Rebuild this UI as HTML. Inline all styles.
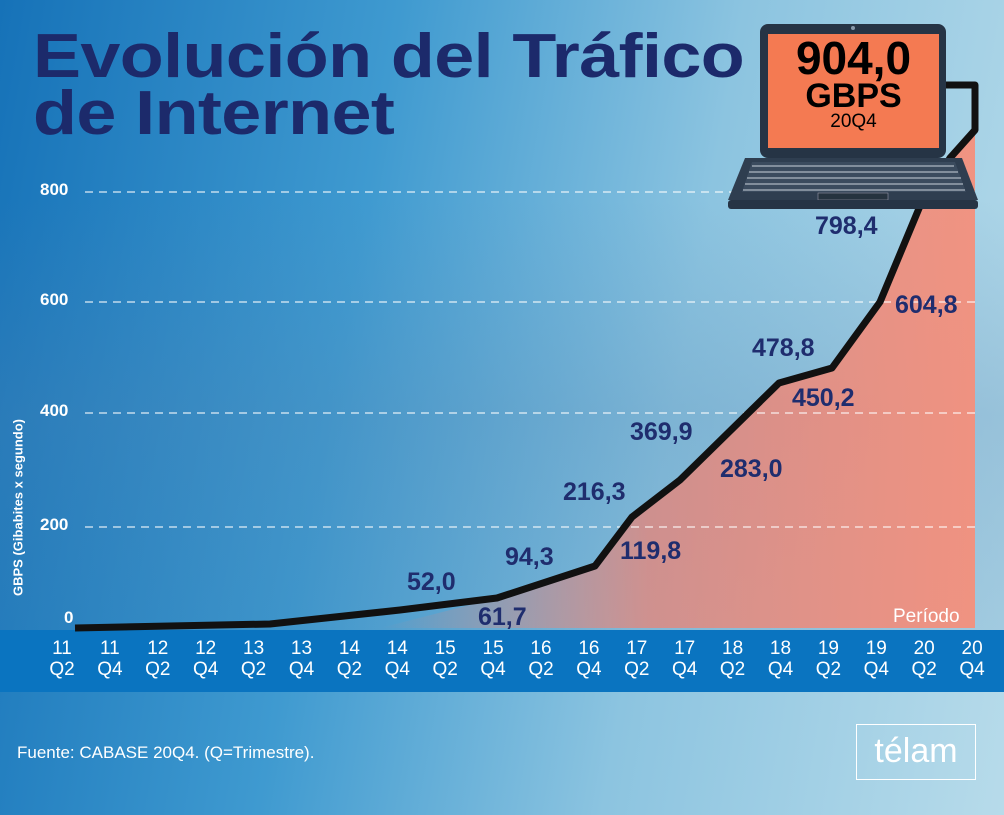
<!DOCTYPE html>
<html><head><meta charset="utf-8"><style>
body{margin:0;width:1004px;height:815px;overflow:hidden;font-family:"Liberation Sans",sans-serif}
#w{position:relative;width:1004px;height:815px;background:linear-gradient(100deg,#1672b8 0%,#3f9ad0 35%,#8cc4e0 65%,#b7dbea 100%)}
.t{position:absolute;font-weight:bold;color:#1c2a6b}
.v{position:absolute;font-weight:bold;color:#1f2d6e;font-size:25px;font-family:"Liberation Sans Narrow","Liberation Sans",sans-serif}
.yl{position:absolute;color:#fff;font-weight:bold;font-size:17px}
.xl{position:absolute;top:638px;width:40px;text-align:center;color:#fff;font-size:19px;line-height:21px;font-family:"Liberation Sans Narrow","Liberation Sans",sans-serif}
</style></head><body><div id="w">
<div style="position:absolute;left:0;top:200px;width:1004px;height:430px;background:linear-gradient(180deg,rgba(100,150,190,0),rgba(80,130,175,0.25) 50%,rgba(60,120,170,0.15))"></div>
<svg width="1004" height="815" style="position:absolute;left:0;top:0">
<defs><linearGradient id="p" x1="0" x2="1" y1="0" y2="0"><stop offset="0" stop-color="#f08070" stop-opacity="0"/><stop offset="0.45" stop-color="#f08070" stop-opacity="0.7"/><stop offset="1" stop-color="#f4907c" stop-opacity="0.95"/></linearGradient></defs>
<polygon fill="url(#p)" points="380,628 497,598 595,566 632,517 680,480 779,383 832,368 880,302 920,206 975,130 975,628"/>
<g stroke="#fff" stroke-dasharray="8,6" stroke-width="1.3" opacity="0.85">
<line x1="85" x2="975" y1="192" y2="192"/><line x1="85" x2="975" y1="302" y2="302"/><line x1="85" x2="975" y1="413" y2="413"/><line x1="85" x2="975" y1="527" y2="527"/></g>
<rect x="0" y="630" width="1004" height="62" fill="#0a74c0"/>
<polyline fill="none" stroke="#111" stroke-width="7" stroke-linejoin="round" points="75,628 270,624 400,610 497,598 595,566 632,517 680,480 779,383 832,368 880,302 920,206 950,158 975,130 975,85 945,85"/>
<g>
<rect x="760" y="24" width="186" height="134" rx="8" fill="#263445"/>
<rect x="768" y="34" width="171" height="114" fill="#f47a52"/>
<circle cx="853" cy="28" r="2" fill="#8899aa"/>
<polygon points="745,158 962,158 978,200 728,200" fill="#2f3e50"/>
<polygon points="752,162 955,162 966,192 742,192" fill="#3b4b5e"/>
<g stroke="#c8d0da" stroke-width="1"><line x1="752" y1="166" x2="954" y2="166"/><line x1="749" y1="172" x2="958" y2="172"/><line x1="747" y1="178" x2="961" y2="178"/><line x1="745" y1="184" x2="963" y2="184"/><line x1="743" y1="190" x2="965" y2="190"/></g>
<rect x="818" y="193" width="70" height="7" fill="#26333f" stroke="#aab" stroke-width="0.5"/>
<rect x="728" y="200" width="250" height="9" rx="3" fill="#263445"/>
</g>
</svg>
<div class="t" style="left:33px;top:28px;font-size:62px;line-height:57px;letter-spacing:-0.5px;transform:scaleX(1.16);transform-origin:0 0">Evolución del Tráfico<br>de Internet</div>
<div style="position:absolute;left:768px;top:36px;width:171px;text-align:center;font-weight:bold;color:#000">
<div style="font-size:46px;line-height:44px">904,0</div><div style="font-size:34px;line-height:32px">GBPS</div><div style="font-size:19px;line-height:20px;font-weight:normal">20Q4</div></div>
<div class="yl" style="left:40px;top:180px">800</div><div class="yl" style="left:40px;top:290px">600</div><div class="yl" style="left:40px;top:401px">400</div><div class="yl" style="left:40px;top:515px">200</div><div class="yl" style="left:64px;top:608px">0</div>
<div style="position:absolute;left:-82px;top:500px;width:200px;transform:rotate(-90deg);color:#fff;font-weight:bold;font-size:13px;text-align:center">GBPS (Gibabites x segundo)</div>
<div style="position:absolute;left:893px;top:606px;color:#fff;font-size:19px">Período</div>
<div class="v" style="left:407px;top:568px">52,0</div><div class="v" style="left:478px;top:603px">61,7</div>
<div class="v" style="left:505px;top:543px">94,3</div><div class="v" style="left:620px;top:537px">119,8</div>
<div class="v" style="left:563px;top:478px">216,3</div><div class="v" style="left:630px;top:418px">369,9</div>
<div class="v" style="left:720px;top:455px">283,0</div><div class="v" style="left:752px;top:334px">478,8</div>
<div class="v" style="left:792px;top:384px">450,2</div><div class="v" style="left:895px;top:291px">604,8</div>
<div class="v" style="left:815px;top:212px">798,4</div>
<div id="xl"></div>
<div style="position:absolute;left:17px;top:743px;color:#fff;font-size:17px">Fuente: CABASE 20Q4. (Q=Trimestre).</div>
<div style="position:absolute;left:856px;top:724px;width:118px;height:54px;border:1.5px solid #fff;color:#fff;font-size:34px;text-align:center;line-height:52px">télam</div>
<script>
var s='';for(var i=0;i<20;i++){var y=11+Math.floor(i/2);s+='<div class="xl" style="left:'+(42+i*47.9)+'px">'+y+'<br>Q'+(i%2?4:2)+'</div>';}
document.getElementById('xl').innerHTML=s;
</script>
</div></body></html>
